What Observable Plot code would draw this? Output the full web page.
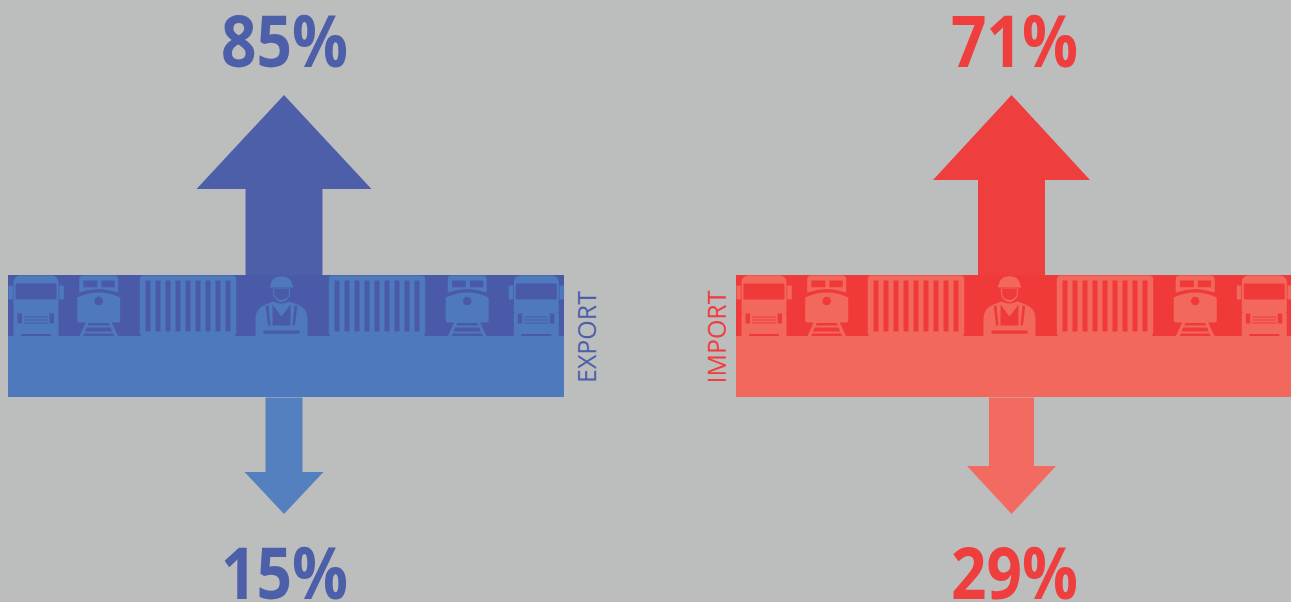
<!DOCTYPE html>
<html><head><meta charset="utf-8">
<script src="https://cdn.jsdelivr.net/npm/d3@7"></script>
<script src="https://cdn.jsdelivr.net/npm/@observablehq/plot@0.6"></script>
<style>html,body{margin:0;padding:0;background:#bcbebd;overflow:hidden}svg{display:block}.icon path{fill-rule:evenodd}</style>
</head><body><div id="chart"></div>
<script>
// values
const flows = ["EXPORT", "IMPORT"];
const upShare = [85, 71];
const downShare = [15, 29];

// layout (pixel space of the infographic, used as the x/y scale domain)
const W = 1291, H = 602;
const bandLeft = [8, 736], bandRight = [564, 1291];
const arrowX = [283.5, 1011];
const upHead = [175, 157], upShaft = [77, 67], upBase = [188.5, 179.5];
const downHead = [79, 89], downShaft = [37, 45], downBase = [471.5, 465.5];
const labelX = [587, 717];
const valueX = [284, 1014];
const dark = ["#4a5aa9", "#f03a3a"], light = ["#4e79bd", "#f3685d"];
const upFill = ["#4e5fa9", "#ee3e3e"], downFill = ["#5580c0", "#f36b60"];
const iconOffset = [0, 728];

function upArrow(i){const c=arrowX[i],h=upHead[i]/2,s=upShaft[i]/2,b=upBase[i];
  return [[c,94.5],[c+h,b],[c+s,b],[c+s,275],[c-s,275],[c-s,b],[c-h,b]].map(([x,y])=>({x,y}));}
function downArrow(i){const c=arrowX[i],h=downHead[i]/2,s=downShaft[i]/2,b=downBase[i];
  return [[c,513.5],[c+h,b],[c+s,b],[c+s,397],[c-s,397],[c-s,b],[c-h,b]].map(([x,y])=>({x,y}));}

// icons as symbols, drawn in pixels around their anchor; evenodd holes show the dark band
function rrect(p,x0,y0,x1,y1,r){p.moveTo(x0+r,y0);p.lineTo(x1-r,y0);p.arcTo(x1,y0,x1,y0+r,r);p.lineTo(x1,y1-r);p.arcTo(x1,y1,x1-r,y1,r);p.lineTo(x0+r,y1);p.arcTo(x0,y1,x0,y1-r,r);p.lineTo(x0,y0+r);p.arcTo(x0,y0,x0+r,y0,r);p.closePath();}
function poly(p,pts){pts.forEach(([x,y],k)=>k?p.lineTo(x,y):p.moveTo(x,y));p.closePath();}
const truck = {draw(p){ // anchor at top centre
  p.moveTo(-16,0);p.lineTo(16,0);p.quadraticCurveTo(22.5,1,22.5,7);p.lineTo(22.5,36);p.lineTo(21.5,37);p.lineTo(22.5,38);p.lineTo(22.5,61);p.lineTo(-22.5,61);p.lineTo(-22.5,38);p.lineTo(-21.5,37);p.lineTo(-22.5,36);p.lineTo(-22.5,7);p.quadraticCurveTo(-22.5,1,-16,0);p.closePath();
  rrect(p,-20.5,8,20.5,24,1);
  p.rect(-18.5,38,4.5,10);p.rect(13.5,38,4.5,10);
  for(const y of [41,44,47]) p.rect(-12,y,24,1.1);
  p.rect(-15,58.5,30,2.5);
  rrect(p,-27.5,10,-23.2,24,1);rrect(p,23.2,10,27.8,24,1);
}};
const train = {draw(p){ // anchor at top centre
  p.moveTo(-15.5,0);p.lineTo(15.5,0);p.quadraticCurveTo(19.5,0,19.5,4);p.lineTo(19.5,17);p.quadraticCurveTo(0,10,-19.5,17);p.lineTo(-19.5,4);p.quadraticCurveTo(-19.5,0,-15.5,0);p.closePath();
  p.rect(-15.3,5,14,6.7);p.rect(2.7,5,13.3,6.7);
  p.moveTo(-21.5,22);p.quadraticCurveTo(0,12,21.5,22);p.lineTo(21.5,45);p.quadraticCurveTo(21.5,47,19.5,47);p.lineTo(-19.5,47);p.quadraticCurveTo(-21.5,47,-21.5,45);p.closePath();
  p.moveTo(4.3,25.5);p.arc(0,25.5,4.3,0,2*Math.PI);p.closePath();
  // rails with three sleepers' gaps
  poly(p,[[-13,47],[13,47],[19.5,61],[-19.5,61]]);
  poly(p,[[-10,47.5],[10,47.5],[11,50],[-11,50]]);
  poly(p,[[-12,52],[12,52],[13.5,56],[-13.5,56]]);
  poly(p,[[-14.3,58],[14.3,58],[15.5,61],[-15.5,61]]);
}};
const container = {draw(p){ // anchor at top centre
  rrect(p,-48.2,0,48.2,61,4);
  for(let k=-4;k<=4;k++) p.rect(k*10-2.5,5,5,51);
}};
const worker = {draw(p){ // anchor at top centre
  // helmet
  p.moveTo(-10.5,9);p.bezierCurveTo(-10,-2,10,-2,10.5,9);p.lineTo(11.5,10);p.lineTo(11.5,12);p.lineTo(-11.5,12);p.lineTo(-11.5,10);p.closePath();
  // face outline, the face itself stays dark
  p.moveTo(-8.8,13);p.lineTo(8.8,13);p.lineTo(8,21);p.quadraticCurveTo(0,32,-8,21);p.closePath();
  p.moveTo(-7.5,13.5);p.lineTo(7.5,13.5);p.lineTo(7,20.5);p.quadraticCurveTo(0,28.5,-7,20.5);p.closePath();
}};
const workerBody = {draw(p){
  p.moveTo(-26,61);p.lineTo(-26,43);p.quadraticCurveTo(-26,33,-16,29);p.lineTo(-8,26);p.quadraticCurveTo(0,30,8,26);p.lineTo(16,29);p.quadraticCurveTo(26,33,26,43);p.lineTo(26,61);p.closePath();
  poly(p,[[-9,29],[0,41],[9,29],[9,50],[-9,50]]);
  poly(p,[[-15.7,30.5],[-13,30],[-11,50],[-13.5,50]]);
  poly(p,[[15.7,30.5],[13,30],[11,50],[13.5,50]]);
  p.rect(-18,55,36,3.3);
}};
const icons = [
  {shape: truck, x: 35.5}, {shape: train, x: 98.2}, {shape: container, x: 187.5}, {shape: worker, x: 281}, {shape: workerBody, x: 281},
  {shape: container, x: 376.5}, {shape: train, x: 466.7}, {shape: truck, x: 535.8}
];

const marks = [];
flows.forEach((name,i)=>{
  marks.push(Plot.line(upArrow(i),{x:"x",y:"y",fill:upFill[i],stroke:null}));
  marks.push(Plot.line(downArrow(i),{x:"x",y:"y",fill:downFill[i],stroke:null}));
  marks.push(Plot.rect([0],{x1:bandLeft[i],x2:bandRight[i],y1:275,y2:336,fill:dark[i],inset:0}));
  marks.push(Plot.rect([0],{x1:bandLeft[i],x2:bandRight[i],y1:336,y2:397,fill:light[i],inset:0}));
  for(const ic of icons){
    marks.push(Plot.dot([0],{x:ic.x+iconOffset[i],y:275,symbol:ic.shape,r:5,fill:light[i],stroke:null,className:"icon"}));
  }
  marks.push(Plot.text([name],{x:labelX[i],y:336.5,text:d=>d,rotate:-90,fill:upFill[i],fontSize:25,fontFamily:"Open Sans",fontWeight:500}));
  marks.push(Plot.text([upShare[i]+"%"],{x:valueX[i],y:44,text:d=>d,fill:upFill[i],fontSize:71,fontFamily:"Open Sans",fontWeight:700,className:"pct"}));
  marks.push(Plot.text([downShare[i]+"%"],{x:valueX[i],y:576,text:d=>d,fill:upFill[i],fontSize:71,fontFamily:"Open Sans",fontWeight:700,className:"pct"}));
});

const svg = Plot.plot({
  width:W,height:H,margin:0,
  style:{background:"#bcbebd"},
  x:{domain:[0,W],range:[0,W],axis:null},
  y:{domain:[0,H],range:[0,H],axis:null},
  marks
});
// fit the whole value text to the width it has in the reference
d3.select(svg).selectAll(".pct text").attr("textLength",127).attr("lengthAdjust","spacingAndGlyphs");
document.getElementById("chart").append(svg);
</script></body></html>
